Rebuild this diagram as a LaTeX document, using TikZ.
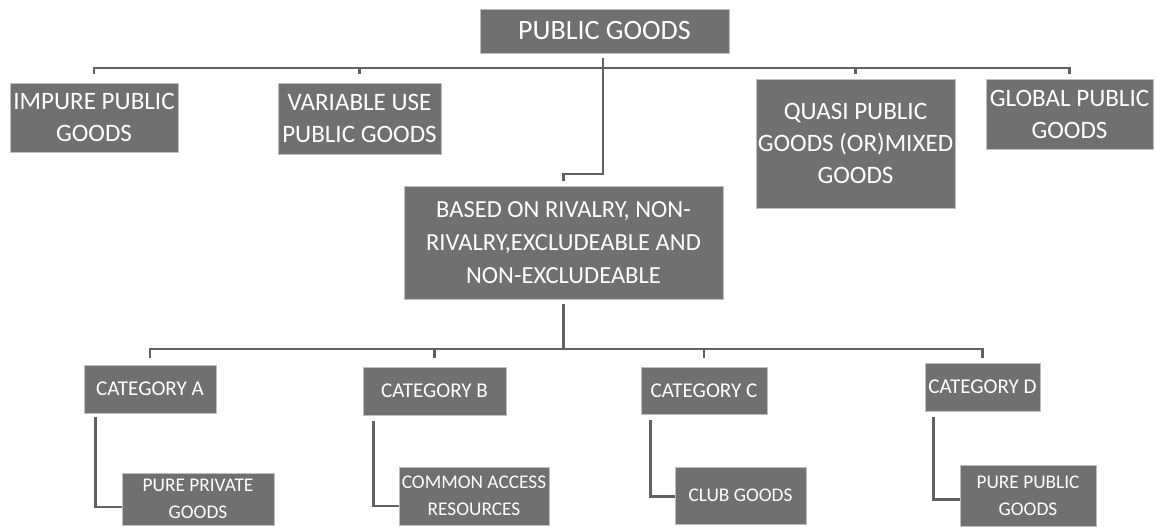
\documentclass[tikz,border=0pt]{standalone}
\usepackage{fontspec}
\setmainfont{Carlito}
\usetikzlibrary{calc}

\tikzset{every picture/.style={line width=0.75pt}}
\tikzset{
  gbox/.style 2 args={draw=black!25, line width=0.6pt, fill=black!56, text=white,
    align=center, inner sep=0pt, minimum width=#1*0.75pt, minimum height=#2*0.75pt},
  conn/.style={draw=black!62, line width=2.2pt},
  bigf/.style={font=\fontsize{21}{25}\selectfont},
  midf/.style={font=\fontsize{18.8}{24}\selectfont},
  catf/.style={font=\fontsize{15.8}{19}\selectfont},
  lowf/.style={font=\fontsize{14.5}{20}\selectfont},
}

\begin{document}
\begin{tikzpicture}[x=0.75pt,y=0.75pt,yscale=-1,xscale=1]
	\useasboundingbox (0,0) rectangle (1156,527);

	% Top box
	\node[gbox={249}{44}, bigf] (top) at (604.5,31) {PUBLIC GOODS};
	% First row
	\node[gbox={168}{69}, midf] (impure) at (94,117.5) {IMPURE PUBLIC\\GOODS};
	\node[gbox={163}{71}, midf] (variable) at (359.5,118.5) {VARIABLE USE\\PUBLIC GOODS};
	\node[gbox={199}{129}, midf] (quasi) at (855.5,143.5) {QUASI PUBLIC\\GOODS (OR)MIXED\\GOODS};
	\node[gbox={167}{70}, midf] (global) at (1069.5,114) {GLOBAL PUBLIC\\GOODS};
	% Middle box
	\node[gbox={319}{113}, font=\fontsize{18.4}{25}\selectfont] (based) at (563.5,242.5)
		{BASED ON RIVALRY, NON-\\RIVALRY,EXCLUDEABLE AND\\NON-EXCLUDEABLE};
	% Categories
	\node[gbox={132}{48}, catf] (catA) at (150,389) {CATEGORY A};
	\node[gbox={143}{48}, catf] (catB) at (434.5,391) {CATEGORY B};
	\node[gbox={126}{47}, catf] (catC) at (704,390.5) {CATEGORY C};
	\node[gbox={115}{48}, catf] (catD) at (982.5,387) {CATEGORY D};
	% Goods
	\node[gbox={152}{52}, lowf] (private) at (198,499) {PURE PRIVATE\\GOODS};
	\node[gbox={150}{58}, lowf] (common) at (474,496) {COMMON ACCESS\\RESOURCES};
	\node[gbox={131}{57}, lowf] (club) at (740.5,495.5) {CLUB GOODS};
	\node[gbox={136}{61}, lowf] (purepub) at (1028,495.5) {PURE PUBLIC\\GOODS};

	% Bus levels
	\coordinate (tbus) at (0,68);
	\coordinate (ttick) at (0,74);
	\coordinate (jog) at (0,174);
	\coordinate (lbus) at (0,349);
	\coordinate (ltick) at (0,358);

	% Upper bus
	\draw[conn] (impure.north |- ttick) -- (impure.north |- tbus) -- (global.north |- tbus) -- (global.north |- ttick);
	\foreach \n in {variable,quasi}
		\draw[conn] (\n.north |- tbus) -- (\n.north |- ttick);
	\draw[conn] ($(top.south)+(-1.5,5)$) -- ($(top.south |- jog)+(-1.5,0)$) -- (based.north |- jog) -- ($(based.north)+(0,-5)$);

	% Lower bus
	\draw[conn] ($(based.south)+(0,5)$) -- (based.south |- lbus);
	\draw[conn] (catA.north |- ltick) -- (catA.north |- lbus) -- (catD.north |- lbus) -- (catD.north |- ltick);
	\foreach \n in {catB,catC}
		\draw[conn] (\n.north |- lbus) -- (\n.north |- ltick);

	% Elbows
	\draw[conn] ($(catA.south west)+(12,4)$) |- ($(private.west)+(0,8)$);
	\draw[conn] ($(catB.south west)+(11,6)$) |- ($(common.west)+(0,10)$);
	\draw[conn] ($(catC.south west)+(10,6)$) |- ($(club.west)+(0,1)$);
	\draw[conn] ($(catD.south west)+(9,6)$) |- ($(purepub.west)+(0,4)$);

\end{tikzpicture}
\end{document}
